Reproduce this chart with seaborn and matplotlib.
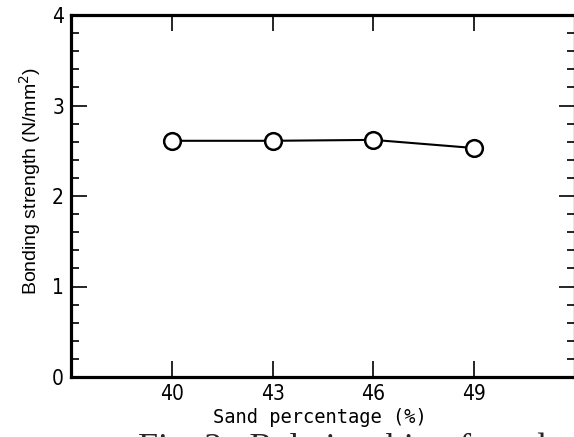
import pandas as pd
import matplotlib
matplotlib.use("Agg")
import matplotlib.pyplot as plt
import seaborn as sns
from matplotlib.ticker import MultipleLocator, FixedLocator

# valores
sand_pct = [40, 43, 46, 49]
bond_strength = [2.61, 2.61, 2.62, 2.53]
x_ticks = [40, 43, 46, 49]

data = pd.DataFrame({"sand": sand_pct, "strength": bond_strength})

sns.set_style("white")
plt.rcParams["font.family"] = ["Liberation Sans", "DejaVu Sans"]

fig = plt.figure(figsize=(5.74, 4.37), dpi=100)
ax = fig.add_axes([71 / 574, 1 - 377 / 437, 504 / 574, 362 / 437])

sns.lineplot(data=data, x="sand", y="strength", ax=ax, color="black",
             linewidth=1.5, marker="o", markersize=12,
             markerfacecolor="white", markeredgecolor="black",
             markeredgewidth=1.8)

ax.set_xlim(37, 52)
ax.set_ylim(0, 4)
ax.xaxis.set_major_locator(FixedLocator(x_ticks))
ax.yaxis.set_major_locator(MultipleLocator(1))
ax.yaxis.set_minor_locator(MultipleLocator(0.2))

for s in ax.spines.values():
    s.set_linewidth(2.3)
    s.set_color("black")

ax.tick_params(axis="x", which="major", direction="in", length=11.5, width=1.2,
               top=True, bottom=True, labelsize=15, pad=5, color="black",
               labelcolor="black")
ax.tick_params(axis="y", which="major", direction="in", length=11.5, width=1.2,
               left=True, right=True, labelsize=15, pad=5, color="black",
               labelcolor="black")
ax.tick_params(axis="y", which="minor", direction="in", length=6, width=1.2,
               left=True, right=True, color="black")
for lbl in ax.get_xticklabels() + ax.get_yticklabels():
    lbl.set_family(["DejaVu Sans"])
    lbl.set_fontstretch("condensed")

ax.set_xlabel("Sand percentage (%)", family=["DejaVu Sans Mono"], fontsize=13.5,
              color="black")
ax.xaxis.set_label_coords(0.494, -0.085)
ax.set_ylabel("Bonding strength (N/mm$^2$)", fontsize=14, color="black")
ax.yaxis.set_label_coords(-0.055, 0.541)

fig.text(138 / 574, 1 - 432 / 437, "Fig. 2   Relationship of sand percentage and bonding strength",
         family=["Liberation Serif"], fontsize=26, va="top", ha="left")

fig.savefig("out.png", dpi=100)
